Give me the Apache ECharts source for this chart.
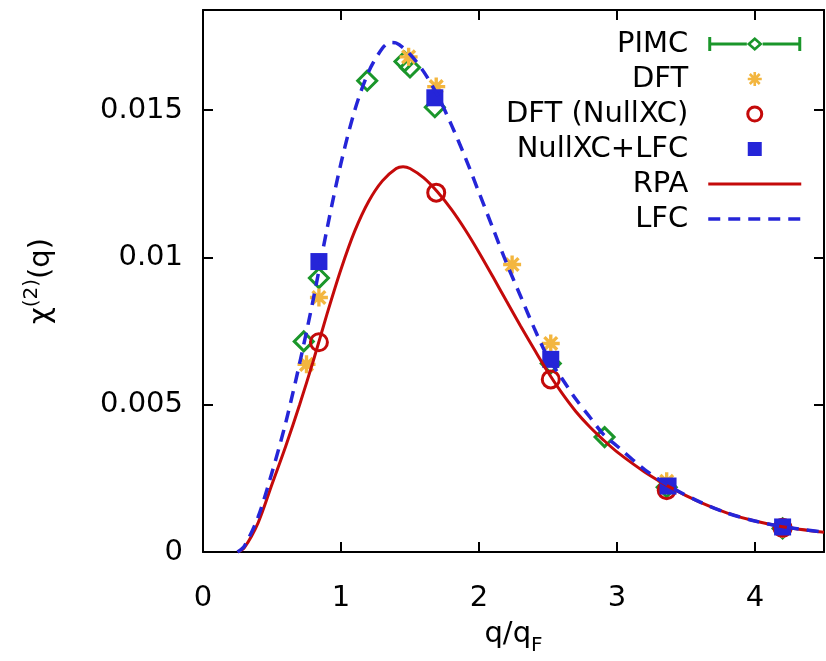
<!DOCTYPE html>
<html>
<head>
<meta charset="utf-8">
<script src="https://cdn.jsdelivr.net/npm/echarts@6/dist/echarts.min.js"></script>
<style>
  html, body { margin: 0; padding: 0; background: #fff; }
  #chart { width: 826px; height: 661px; }
</style>
</head>
<body>
<div id="chart"></div>
<script>
// curves
var rpaQ   = [0.25, 0.30, 0.40, 0.50, 0.60, 0.70, 0.80, 0.90, 1.00, 1.10, 1.20, 1.30, 1.40, 1.45, 1.50, 1.60, 1.70, 1.80, 1.90, 2.00, 2.10, 2.20, 2.30, 2.40, 2.50, 2.60, 2.70, 2.80, 2.90, 3.00, 3.20, 3.40, 3.60, 3.80, 4.00, 4.20, 4.50];
var rpaChi = [0, 0.00015, 0.0010, 0.0023, 0.0036, 0.0050, 0.0065, 0.0081, 0.0096, 0.0109, 0.0119, 0.0126, 0.01302, 0.01308, 0.01302, 0.01270, 0.01222, 0.01163, 0.01094, 0.01017, 0.00935, 0.00851, 0.00768, 0.00688, 0.00610, 0.00540, 0.00478, 0.00426, 0.00381, 0.0034, 0.00272, 0.00216, 0.00169, 0.00132, 0.00105, 0.00086, 0.00067];

var lfcQ   = [0.25, 0.30, 0.40, 0.50, 0.60, 0.70, 0.80, 0.90, 1.00, 1.10, 1.20, 1.30, 1.36, 1.40, 1.50, 1.60, 1.70, 1.80, 1.90, 2.00, 2.10, 2.20, 2.30, 2.40, 2.50, 2.60, 2.70, 2.80, 2.90, 3.00, 3.20, 3.40, 3.60, 3.80, 4.00, 4.20, 4.50];
var lfcChi = [0, 0.0002, 0.0012, 0.0027, 0.0044, 0.0064, 0.0086, 0.0110, 0.0132, 0.0150, 0.0163, 0.0171, 0.0173, 0.01728, 0.0169, 0.0163, 0.0155, 0.0145, 0.0134, 0.0122, 0.0110, 0.0098, 0.0087, 0.0076, 0.0066, 0.0059, 0.0052, 0.0046, 0.0040, 0.0036, 0.0028, 0.00218, 0.0017, 0.00132, 0.00105, 0.00086, 0.00067];

// points
var pimcQ   = [0.73, 0.84, 1.19, 1.46, 1.50, 1.68, 2.52, 2.91, 3.36, 4.20];
var pimcChi = [0.00715, 0.0093, 0.0160, 0.01665, 0.01645, 0.0151, 0.0064, 0.0039, 0.0022, 0.0008];

var dftQ   = [0.75, 0.84, 1.49, 1.69, 2.24, 2.52, 3.36, 4.20];
var dftChi = [0.00637, 0.00864, 0.01681, 0.0158, 0.00976, 0.00708, 0.0024, 0.00078];

var nullQ   = [0.84, 1.69, 2.52, 3.36, 4.20];
var nullChi = [0.00712, 0.0122, 0.00586, 0.0021, 0.00082];

var nullLfcQ   = [0.84, 1.68, 2.52, 3.37, 4.20];
var nullLfcChi = [0.00986, 0.01542, 0.00654, 0.00224, 0.00085];

var xTicks = [0, 1, 2, 3, 4];
var yTicks = [0, 0.005, 0.01, 0.015];

var green = '#1a962a', orange = '#f3b63f', red = '#c40a0a', blue = '#2525d8';
var font = 'DejaVu Sans';
var fs = 29;

function pairs(xs, ys) {
    var out = [];
    for (var i = 0; i < xs.length; i++) out.push([xs[i], ys[i]]);
    return out;
}

// gnuplot style asterisk (+ and x on top of each other)
var starPath = 'path://M-1.5,-8L1.5,-8L1.5,8L-1.5,8Z' +
    'M-8,-1.5L8,-1.5L8,1.5L-8,1.5Z' +
    'M4.6,-6.72L6.72,-4.6L-4.6,6.72L-6.72,4.6Z' +
    'M-6.72,-4.6L-4.6,-6.72L6.72,4.6L4.6,6.72Z';

// errorbar + hollow diamond, for the legend
var pimcIcon = 'path://M0,0L3,0L3,14L0,14Z M91,0L94,0L94,14L91,14Z' +
    'M3,5.5L39,5.5L39,8.5L3,8.5Z M55,5.5L91,5.5L91,8.5L55,8.5Z' +
    'M47,0L55,7L47,14L39,7Z M47,3.5L43,7L47,10.5L51,7Z';
var squareIcon = 'path://M0,0L10,0L10,10L0,10Z';

var axisLine = { onZero: false, lineStyle: { color: '#000', width: 2 } };
var axisTick = { inside: true, length: 10, lineStyle: { color: '#000', width: 2 } };
var noDot = { color: 'rgba(0,0,0,0)', borderWidth: 0, opacity: 0 };

var chart = echarts.init(document.getElementById('chart'));
chart.setOption({
    animation: false,
    backgroundColor: '#fff',
    grid: { left: 203, right: 2, top: 10, bottom: 108 },
    legend: {
        orient: 'vertical',
        align: 'right',
        right: 23,
        top: 29,
        padding: 0,
        itemWidth: 93,
        itemHeight: 14,
        itemGap: 5,
        selectedMode: false,
        textStyle: { fontFamily: font, fontSize: fs, color: '#000', lineHeight: 30, padding: [0, 15, 0, 0] },
        data: [
            { name: 'PIMC', icon: pimcIcon, itemStyle: { color: green, borderWidth: 0 } },
            { name: 'DFT', itemStyle: { borderWidth: 0 } },
            { name: 'DFT (NullXC)', itemStyle: { borderWidth: 3 } },
            { name: 'NullXC+LFC', icon: squareIcon, itemStyle: { color: blue, borderWidth: 0 } },
            { name: 'RPA', itemStyle: noDot, lineStyle: { color: red, width: 3 } },
            { name: 'LFC', itemStyle: noDot, lineStyle: { color: blue, width: 3.5, type: [12, 8] } }
        ]
    },
    xAxis: [{
        type: 'value', min: 0, max: 4.5, interval: 1, position: 'bottom',
        axisLine: axisLine, axisTick: axisTick, splitLine: { show: false },
        axisLabel: {
            fontFamily: font, fontSize: fs, color: '#000', margin: 32, showMaxLabel: false,
            formatter: function (v) { return xTicks.indexOf(v) >= 0 ? String(v) : ''; }
        },
        name: '{a|q/q}{s|F}',
        nameLocation: 'middle',
        nameGap: 60,
        nameTextStyle: {
            rich: {
                a: { fontFamily: font, fontSize: fs, color: '#000', lineHeight: 44 },
                s: { fontFamily: font, fontSize: 20, color: '#000', lineHeight: 20, verticalAlign: 'bottom' }
            }
        }
    }, {
        type: 'value', min: 0, max: 4.5, interval: 1, position: 'top',
        axisLine: axisLine, axisTick: axisTick, splitLine: { show: false },
        axisLabel: { show: false }
    }],
    yAxis: [{
        type: 'value', min: 0, max: 0.0184, interval: 0.005, position: 'left',
        axisLine: axisLine, axisTick: axisTick, splitLine: { show: false },
        axisLabel: {
            fontFamily: font, fontSize: fs, color: '#000', margin: 20, showMaxLabel: false,
            formatter: function (v) {
                for (var i = 0; i < yTicks.length; i++) {
                    if (Math.abs(v - yTicks[i]) < 1e-9) return String(yTicks[i]);
                }
                return '';
            }
        },
        name: '{a|χ}{b|(2)}{a|(q)}',
        nameLocation: 'middle',
        nameGap: 143,
        nameTextStyle: {
            rich: {
                a: { fontFamily: font, fontSize: fs, color: '#000', lineHeight: 38 },
                b: { fontFamily: font, fontSize: 20, color: '#000', lineHeight: 22, verticalAlign: 'top' }
            }
        }
    }, {
        type: 'value', min: 0, max: 0.0184, interval: 0.005, position: 'right',
        axisLine: axisLine, axisTick: axisTick, splitLine: { show: false },
        axisLabel: { show: false }
    }],
    series: [{
        name: 'PIMC', type: 'scatter', symbol: 'diamond', symbolSize: 19,
        itemStyle: { color: 'rgba(0,0,0,0)', borderColor: green, borderWidth: 3, opacity: 1 },
        data: pairs(pimcQ, pimcChi)
    }, {
        name: 'DFT', type: 'scatter', symbol: starPath, symbolSize: 18,
        itemStyle: { color: orange, opacity: 1 },
        data: pairs(dftQ, dftChi)
    }, {
        name: 'DFT (NullXC)', type: 'scatter', symbol: 'circle', symbolSize: 17,
        itemStyle: { color: 'rgba(0,0,0,0)', borderColor: red, borderWidth: 3, opacity: 1 },
        data: pairs(nullQ, nullChi)
    }, {
        name: 'NullXC+LFC', type: 'scatter', symbol: 'rect', symbolSize: 17,
        itemStyle: { color: blue, opacity: 1 },
        data: pairs(nullLfcQ, nullLfcChi)
    }, {
        name: 'RPA', type: 'line', symbol: 'none', showSymbol: false, smooth: 0.3,
        lineStyle: { color: red, width: 3 },
        itemStyle: { color: red },
        data: pairs(rpaQ, rpaChi)
    }, {
        name: 'LFC', type: 'line', symbol: 'none', showSymbol: false, smooth: 0.3,
        lineStyle: { color: blue, width: 3.5, type: [12, 8] },
        itemStyle: { color: blue },
        data: pairs(lfcQ, lfcChi)
    }]
});
</script>
</body>
</html>
